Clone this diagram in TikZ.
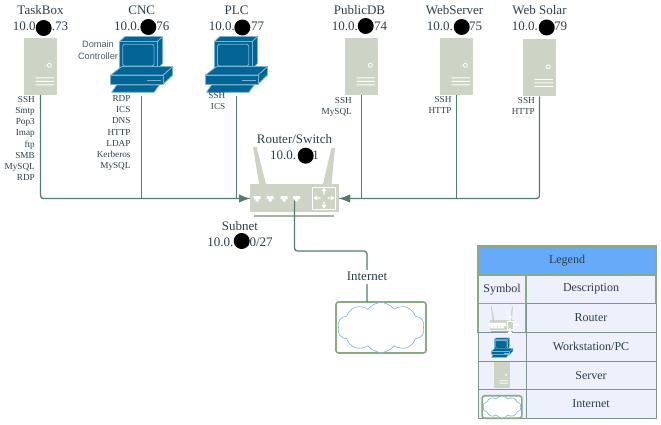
\documentclass[tikz,border=0pt]{standalone}
\usepackage{fontspec}
\setmainfont{Liberation Serif}
\newfontfamily\notesans{Liberation Sans}
\usepackage{xcolor}
\usepackage{tikz}
\usetikzlibrary{positioning, arrows.meta, shapes.symbols}
\definecolor{devicegrey}{RGB}{205, 212, 198}
\definecolor{barGrey}{RGB}{170, 178, 165}
\definecolor{linkgreen}{RGB}{84, 124, 110}
\definecolor{boxgreen}{RGB}{138, 170, 130}
\definecolor{pcblue}{RGB}{3, 100, 150}
\definecolor{pcedge}{RGB}{120, 180, 210}
\definecolor{cloudblue}{RGB}{125, 175, 210}
\definecolor{labelslate}{RGB}{44, 62, 75}
\definecolor{legendblue}{RGB}{102, 170, 250}
\definecolor{legendfill}{RGB}{238, 240, 252}
\definecolor{legendline}{RGB}{125, 150, 145}

\begin{document}
\begin{tikzpicture}[
  x=1pt, y=-1pt,
  every node/.style={text=labelslate},
  hostname/.style={inner sep=0pt, text height=9pt, text depth=3pt, font=\fontsize{13}{15}\selectfont},
  services/.style={inner sep=0pt, align=right, font=\fontsize{9.2}{11.2}\selectfont},
  blackdot/.style={circle, fill=black, inner sep=0pt, minimum size=16pt},
  link/.style={draw=linkgreen, line width=1.3pt},
  linkarrow/.style={link, -{Latex[length=11pt,width=8pt]}},
  iconline/.style={line width=.8pt},
  legcell/.style={draw=legendline, line width=.8pt, fill=legendfill, inner sep=0pt, outer sep=0pt, minimum height=28.7pt, font=\fontsize{12}{14}\selectfont},
  legtop/.style={legcell, draw=boxgreen, line width=1.5pt},
  symcell/.style={minimum width=48pt},
  desccell/.style={minimum width=130pt},
  pics/serverico/.style={code={
    \node[transform shape, fill=devicegrey, inner sep=0pt, outer sep=0pt, minimum width=33pt, minimum height=57pt] (-body) {};
    \draw[white, iconline] (8.8,-1.2) circle (2);
    \fill[white] (-5,11) rectangle (13.5,12) (-5,14.5) rectangle (13.5,15.5) (-5,18) rectangle (13.5,19);
  }},
  pics/pcico/.style={code={
    \node[transform shape, inner sep=0pt, outer sep=0pt, minimum width=62pt, minimum height=56pt] (-body) {};
    \filldraw[fill=pcblue, draw=pcedge, iconline, line join=round] (-22.3,-22.7) -- (-16.7,-27.7) -- (21,-27.7) -- (15.7,-22.7) -- cycle;
    \filldraw[fill=pcblue, draw=pcedge, iconline, line join=round] (15.7,-22.7) -- (21,-27.7) -- (21,-1) -- (15.7,5) -- cycle;
    \filldraw[fill=pcblue, draw=pcedge, iconline, line join=round] (-22.3,-22.7) rectangle (15.7,5);
    \draw[pcedge, iconline, rounded corners=1.5] (-19,-20) rectangle (12.3,1.7);
    \filldraw[fill=pcblue, draw=pcedge, iconline, line join=round] (-31,10.7) -- (-20,2.3) -- (31,2.3) -- (21.7,10.7) -- cycle;
    \filldraw[fill=pcblue, draw=pcedge, iconline, line join=round] (21.7,10.7) -- (31,2.3) -- (31,10.7) -- (21.7,19.7) -- cycle;
    \filldraw[fill=pcblue, draw=pcedge, iconline, line join=round] (-31,10.7) rectangle (21.7,19.7);
    \draw[pcedge, iconline] (5.7,15.7) -- (19,15.7);
    \filldraw[fill=pcblue, draw=pcedge, iconline, line join=round] (-30,28) -- (-25,20.7) -- (17.7,20.7) -- (12.3,28) -- cycle;
  }},
  pics/portglyph/.style={code={
    \fill[white] (-3.5,-2) rectangle (3.5,1) (-1.5,1) rectangle (1.5,3.5);
  }},
  pics/arrowglyph/.style={code={
    \fill[white] (3.5,-.7) -- (7,-.7) -- (7,-2.5) -- (10.5,0) -- (7,2.5) -- (7,.7) -- (3.5,.7) -- cycle;
  }},
  pics/routerico/.style={code={
    \fill[devicegrey] (-41.5,-51) -- (-38,-51) -- (-28.5,-14) -- (-35.5,-14) -- cycle;
    \fill[devicegrey] (37,-14) -- (28.5,-14) -- (37,-50) -- (40.5,-50) -- cycle;
    \node[transform shape, fill=devicegrey, inner sep=0pt, outer sep=0pt, minimum width=89pt, minimum height=28pt] (-body) {};
    \fill[barGrey] (-40.5,17) rectangle (39.5,18.5);
    \pic at (-37.5,0) {portglyph};
    \pic at (-24.5,0) {portglyph};
    \pic at (-10.5,0) {portglyph};
    \pic at (2,0) {portglyph};
    \draw[white, iconline] (18,-11) rectangle (41,11);
    \pic at (29.5,0) {arrowglyph};
    \pic[rotate=90] at (29.5,0) {arrowglyph};
    \pic[rotate=180] at (29.5,0) {arrowglyph};
    \pic[rotate=270] at (29.5,0) {arrowglyph};
  }},
  pics/cloudico/.style={code={
    \node[transform shape, draw=boxgreen, line width=1.6pt, rounded corners=2.5pt, fill=white, inner sep=0pt, outer sep=0pt, minimum width=90pt, minimum height=51pt] (-body) {};
    \node[transform shape, cloud, cloud puffs=10, cloud puff arc=110, aspect=1.9, draw=cloudblue, line width=.6pt, fill=white, inner sep=0pt, minimum width=87pt, minimum height=50pt] (-puff) {};
  }}
]
\useasboundingbox (0,0) rectangle (661,425);

\pic (taskbox) at (40.5,66.5) {serverico};
\pic (cnc) at (141.7,64.3) {pcico};
\pic (plc) at (236.5,64.3) {pcico};
\pic (publicdb) at (361.5,66.5) {serverico};
\pic (webserver) at (456.5,66.5) {serverico};
\pic (websolar) at (539.5,68) {serverico};
\pic (router) at (294.5,198) {routerico};
\pic (internet) at (381,327.5) {cloudico};

\node[hostname, above=4pt of taskbox-body] (taskboxip) {10.0.\hphantom{00}.73};
\node[hostname, above=4pt of taskboxip] (taskboxname) {TaskBox};
\node[hostname, above=2.6pt of cnc-body] (cncip) {10.0.\hphantom{00}.76};
\node[hostname, above=4pt of cncip] (cncname) {CNC};
\node[hostname, above=2.6pt of plc-body] (plcip) {10.0.\hphantom{00}.77};
\node[hostname, above=4pt of plcip] (plcname) {PLC};
\node[hostname, above=4pt of publicdb-body, xshift=-2pt] (publicdbip) {10.0.\hphantom{00}.74};
\node[hostname, above=4pt of publicdbip] (publicdbname) {PublicDB};
\node[hostname, above=4pt of webserver-body, xshift=-2pt] (webserverip) {10.0.\hphantom{00}.75};
\node[hostname, above=4pt of webserverip] (webservername) {WebServer};
\node[hostname, above=5.5pt of websolar-body] (websolarip) {10.0.\hphantom{00}.79};
\node[hostname, above=4pt of websolarip] (websolarname) {Web Solar};
\node[hostname] (routerip) at (294.5,157) {10.0.\hphantom{00.}1};
\node[hostname, above=4pt of routerip] (routername) {Router/Switch};
\node[hostname] (subnetip) at (240,243.5) {10.0.\hphantom{00}.0/27};
\node[hostname, above=4pt of subnetip] (subnetname) {Subnet};

\node[blackdot] (taskboxdot) at (43.7,28) {};
\node[blackdot] (cncdot) at (148.3,27) {};
\node[blackdot] (plcdot) at (242.3,27.5) {};
\node[blackdot] (publicdbdot) at (365.7,26) {};
\node[blackdot] (webserverdot) at (461.7,27) {};
\node[blackdot] (websolardot) at (546.7,27.5) {};
\node[blackdot] (routerdot) at (305.7,155.7) {};
\node[blackdot] (subnetdot) at (241.7,241) {};

\node[services, below left=1pt and 5.5pt of taskbox-body.south] (taskboxsvc) {SSH\\Smtp\\Pop3\\Imap\\ftp\\SMB\\MySQL\\RDP};
\node[services, below left=3pt and 11pt of cnc-body.south] (cncsvc) {RDP\\ICS\\DNS\\HTTP\\LDAP\\Kerberos\\MySQL};
\node[services, below left=0pt and 11pt of plc-body.south] (plcsvc) {SSH\\ICS};
\node[services, below left=2pt and 9.5pt of publicdb-body.south] (publicdbsvc) {SSH\\MySQL};
\node[services, below left=1pt and 4.8pt of webserver-body.south] (webserversvc) {SSH\\HTTP};
\node[services, below left=1pt and 4.5pt of websolar-body.south] (websolarsvc) {SSH\\HTTP};
\node[inner sep=0pt, align=center, font=\notesans\fontsize{9.2}{11.5}\selectfont, text=labelslate!85] (cncnote) at (98,50) {Domain\\Controller};

\draw[linkarrow, rounded corners=3pt] (taskbox-body.south) |- ([yshift=-.5pt]router-body.west);
\draw[link] ([yshift=-4pt]cnc-body.south) |- ([yshift=-.5pt]router-body.west);
\draw[linkarrow] ([yshift=-4pt]plc-body.south) |- ([yshift=-.5pt]router-body.west);
\draw[linkarrow, rounded corners=3pt] (websolar-body.south) |- ([yshift=-.5pt]router-body.east);
\draw[link] (webserver-body.south) |- ([yshift=-.5pt]router-body.east);
\draw[linkarrow] (publicdb-body.south) |- ([yshift=-.5pt]router-body.east);

\coordinate (uplinkbend) at (367,251);
\draw[link, rounded corners=3pt] ([yshift=-3pt]router-body.center) |- (uplinkbend) -- (internet-body.north -| uplinkbend);
\node[hostname, fill=white, inner ysep=1pt] (internetlabel) at (367,277) {Internet};

\node[legtop, fill=legendblue, minimum width=178pt] (legendhead) at (567,260.5) {Legend};
\node[legtop, symcell, below right=0pt and 0pt of legendhead.south west] (symhead) {Symbol};
\node[legtop, desccell, right=0pt of symhead] (deschead) {Description};
\node[legtop, symcell, below=0pt of symhead] (symrouter) {};
\node[legcell, desccell, below=0pt of deschead] (descrouter) {Router};
\node[legcell, symcell, below=0pt of symrouter] (sympc) {};
\node[legcell, desccell, below=0pt of descrouter] (descpc) {Workstation/PC};
\node[legcell, symcell, below=0pt of sympc] (symserver) {};
\node[legcell, desccell, below=0pt of descpc] (descserver) {Server};
\node[legcell, symcell, below=0pt of symserver] (syminternet) {};
\node[legcell, desccell, below=0pt of descserver] (descinternet) {Internet};

\pic[xscale=.27, yscale=.36, iconline/.style={line width=.3pt}] (legrouter) at ([yshift=-7pt]symrouter.center) {routerico};
\pic[scale=.35, iconline/.style={line width=.3pt}] (legpc) at ([yshift=-1pt]sympc.center) {pcico};
\pic[scale=.455, iconline/.style={line width=.3pt}] (legserver) at (symserver.center) {serverico};
\pic[scale=.44] (leginternet) at ([yshift=-3pt]syminternet.center) {cloudico};
\end{tikzpicture}
\end{document}
